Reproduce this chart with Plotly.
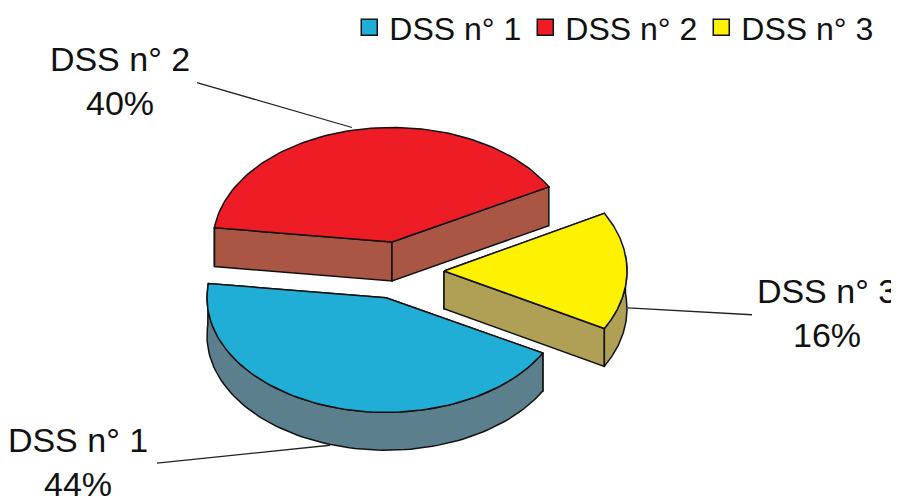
import numpy as np
import plotly.graph_objects as go

names = ["DSS n° 1", "DSS n° 2", "DSS n° 3"]
values = [44, 40, 16]
top_colors = ["#21AED6", "#EE1C25", "#FFF200"]
side_colors = ["#5B7F8C", "#A95644", "#AFA055"]

# layout / projection of the tilted, exploded pie (pixel-like axis units)
apex = {"DSS n° 1": (386, 297), "DSS n° 2": (392, 241), "DSS n° 3": (444, 270)}
radii = {"DSS n° 1": (179, 115), "DSS n° 2": (179, 115), "DSS n° 3": (183, 120)}
depth = {"DSS n° 1": 38, "DSS n° 2": 39, "DSS n° 3": 38}
label_pos = {"DSS n° 1": (78, 465), "DSS n° 2": (120, 83), "DSS n° 3": (827, 316)}
leaders = {"DSS n° 1": ([157, 330], [463, 445]),
           "DSS n° 2": ([197, 352], [81, 126]),
           "DSS n° 3": ([628, 752], [307, 314])}
START_DEG = 331.2
FONT = "Liberation Sans, Arial, sans-serif"
EDGE = dict(color="#111111", width=1.5)

fig = go.Figure()

def poly(xs, ys, color):
    fig.add_trace(go.Scatter(x=xs, y=ys, mode="lines", fill="toself", fillcolor=color,
                             line=EDGE, showlegend=False, hoverinfo="skip"))

total = sum(values)
spans = {}
angle = START_DEG
for n, v in zip(names, values):
    a1 = angle - 360 * v / total
    spans[n] = (angle, a1)
    angle = a1

# painted back to front: red, yellow, blue
for n in [names[1], names[2], names[0]]:
    i = names.index(n)
    a0, a1 = spans[n]
    cx, cy = apex[n]
    rx, ry = radii[n]
    d = depth[n]
    t = np.radians(np.linspace(a0, a1, 90))
    ax = cx + rx * np.cos(t)
    ay = cy - ry * np.sin(t)
    # radial walls
    for ex, ey in [(ax[0], ay[0]), (ax[-1], ay[-1])]:
        poly([cx, ex, ex, cx, cx], [cy, ey, ey + d, cy + d, cy], side_colors[i])
    # outer wall, front-facing part only
    front = np.sin(t) <= 0.13
    if front.any():
        fx, fy = ax[front], ay[front]
        poly(list(fx) + list(fx[::-1]) + [fx[0]],
             list(fy) + list((fy + d)[::-1]) + [fy[0]], side_colors[i])
    # top face
    poly([cx] + list(ax) + [cx], [cy] + list(ay) + [cy], top_colors[i])

for n, v in zip(names, values):
    lx, ly = leaders[n]
    fig.add_trace(go.Scatter(x=lx, y=ly, mode="lines", line=dict(color="#222222", width=1.3),
                             showlegend=False, hoverinfo="skip"))
    px, py = label_pos[n]
    fig.add_trace(go.Scatter(x=[px], y=[py], mode="text", text=[f"{n}<br>{v}%"],
                             textposition="middle center", cliponaxis=True,
                             textfont=dict(family=FONT, size=34, color="#111111"),
                             showlegend=False, hoverinfo="skip"))

# legend entries
for n, c in zip(names, top_colors):
    fig.add_trace(go.Scatter(x=[None], y=[None], mode="markers", name=n,
                             marker=dict(symbol="square", size=19, color=c,
                                         line=dict(color="#111111", width=1.5))))

fig.update_layout(
    width=900, height=502, margin=dict(l=0, r=9, t=0, b=0),
    paper_bgcolor="white", plot_bgcolor="white",
    xaxis=dict(range=[0, 891], visible=False, fixedrange=True),
    yaxis=dict(range=[502, 0], visible=False, fixedrange=True),
    legend=dict(orientation="h", x=0.392, y=1.004, xanchor="left", yanchor="top",
                font=dict(family=FONT, size=32, color="#111111"),
                entrywidth=131, entrywidthmode="pixels", itemwidth=30,
                bgcolor="rgba(0,0,0,0)"),
)
fig.write_html("out.html", config={"displayModeBar": False},
               post_script="document.body.style.margin='0';")
